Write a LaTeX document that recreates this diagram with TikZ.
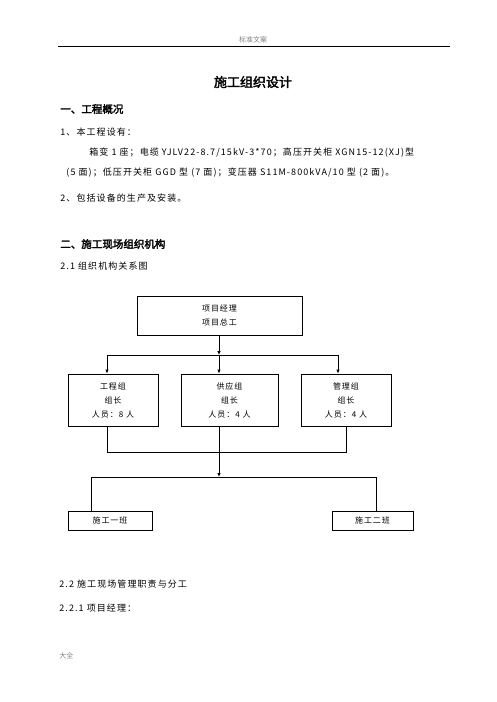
\documentclass[tikz,border=0pt]{standalone}
\usepackage{fontspec}
\setmainfont{Noto Sans CJK SC}
\newfontfamily\boldcjk[FakeBold=2.5]{Noto Sans CJK SC}
\newfontfamily\spacedcjk[LetterSpace=12]{Noto Sans CJK SC}
\usetikzlibrary{arrows.meta}
\begin{document}
\begin{tikzpicture}[
      x=1pt, y=-1pt,
      line width=0.8pt,
      txt/.style={anchor=west, inner sep=0pt, font=\spacedcjk\fontsize{9}{11}\selectfont},
      head/.style={anchor=west, inner sep=0pt, font=\boldcjk\fontsize{10.5}{12}\selectfont},
      box/.style={draw, inner sep=0pt, align=center,
                  font=\spacedcjk\fontsize{8}{14}\selectfont},
      arr/.style={-{Latex[length=4pt,width=3.5pt]}}
    ]
      \useasboundingbox (0,0) rectangle (496,702);
      % page header and footer
      \node[inner sep=0pt, text=gray, font=\fontsize{7}{8}\selectfont] (hdr) at (253,40) {标准文案};
      \draw[line width=0.9pt] (58,46) coordinate (hl) -- (450,46) coordinate (hr);
      \node[anchor=west, inner sep=0pt, text=gray, font=\fontsize{7}{8}\selectfont] (ftr) at (59,656) {大全};
      % text
      \node[inner sep=0pt, font=\boldcjk\fontsize{13}{15}\selectfont] (title) at (253,82) {施工组织设计};
      \node[head] (h1) at (60,109) {一、工程概况};
      \node[txt] (p1) at (60,132) {1、本工程设有：};
      \node[txt] (p2) at (89,153) {箱变 1 座；电缆 YJLV22-8.7/15kV-3*70；高压开关柜 XGN15-12(XJ)型};
      \node[txt] (p3) at (66,173) {(5 面)；低压开关柜 GGD 型 (7 面)；变压器 S11M-800kVA/10 型 (2 面)。};
      \node[txt] (p4) at (60,198) {2、包括设备的生产及安装。};
      \node[head] (h2) at (60,244) {二、施工现场组织机构};
      \node[txt] (p5) at (60,266) {2.1 组织机构关系图};
      \node[txt] (p6) at (59,584) {2.2 施工现场管理职责与分工};
      \node[txt] (p7) at (59,608) {2.2.1 项目经理：};
      % chart boxes
      \node[box, minimum width=165pt, minimum height=39pt] (pm) at (219.5,315.5) {项目经理\\项目总工};
      \node[box, minimum width=90pt, minimum height=52pt] (eng) at (113,400) {工程组\\组长\\人员：8 人};
      \node[box, minimum width=97pt, minimum height=52pt] (sup) at (229.5,400) {供应组\\组长\\人员：4 人};
      \node[box, minimum width=90pt, minimum height=52pt] (mgr) at (346,400) {管理组\\组长\\人员：4 人};
      \node[box, minimum width=84pt, minimum height=19pt] (t1) at (110,520.5) {施工一班};
      \node[box, minimum width=81pt, minimum height=19pt] (t2) at (372.5,520.5) {施工二班};
      % bus points
      \coordinate (busA) at (219,355);
      \coordinate (busAl) at (107,355);
      \coordinate (busAr) at (338,355);
      \coordinate (busBl) at (107,452);
      \coordinate (busBr) at (346,452);
      \coordinate (busC) at (219,477);
      \coordinate (busCl) at (91,477);
      \coordinate (busCr) at (376,477);
      % connectors
      \draw[arr] (busA |- pm.south) -- (busA);
      \draw (busAl) -- (busAr);
      \draw[arr] (busAl) -- (busAl |- eng.north);
      \draw[arr] (busA) -- (busA |- sup.north);
      \draw[arr] (busAr) -- (busAr |- mgr.north);
      \draw (busBl |- eng.south) -- (busBl) -- (busBr) -- (busBr |- mgr.south);
      \draw[arr] (busC |- sup.south) -- (busC);
      \draw (busCl |- t1.north) -- (busCl) -- (busCr) -- (busCr |- t2.north);
\end{tikzpicture}
\end{document}
